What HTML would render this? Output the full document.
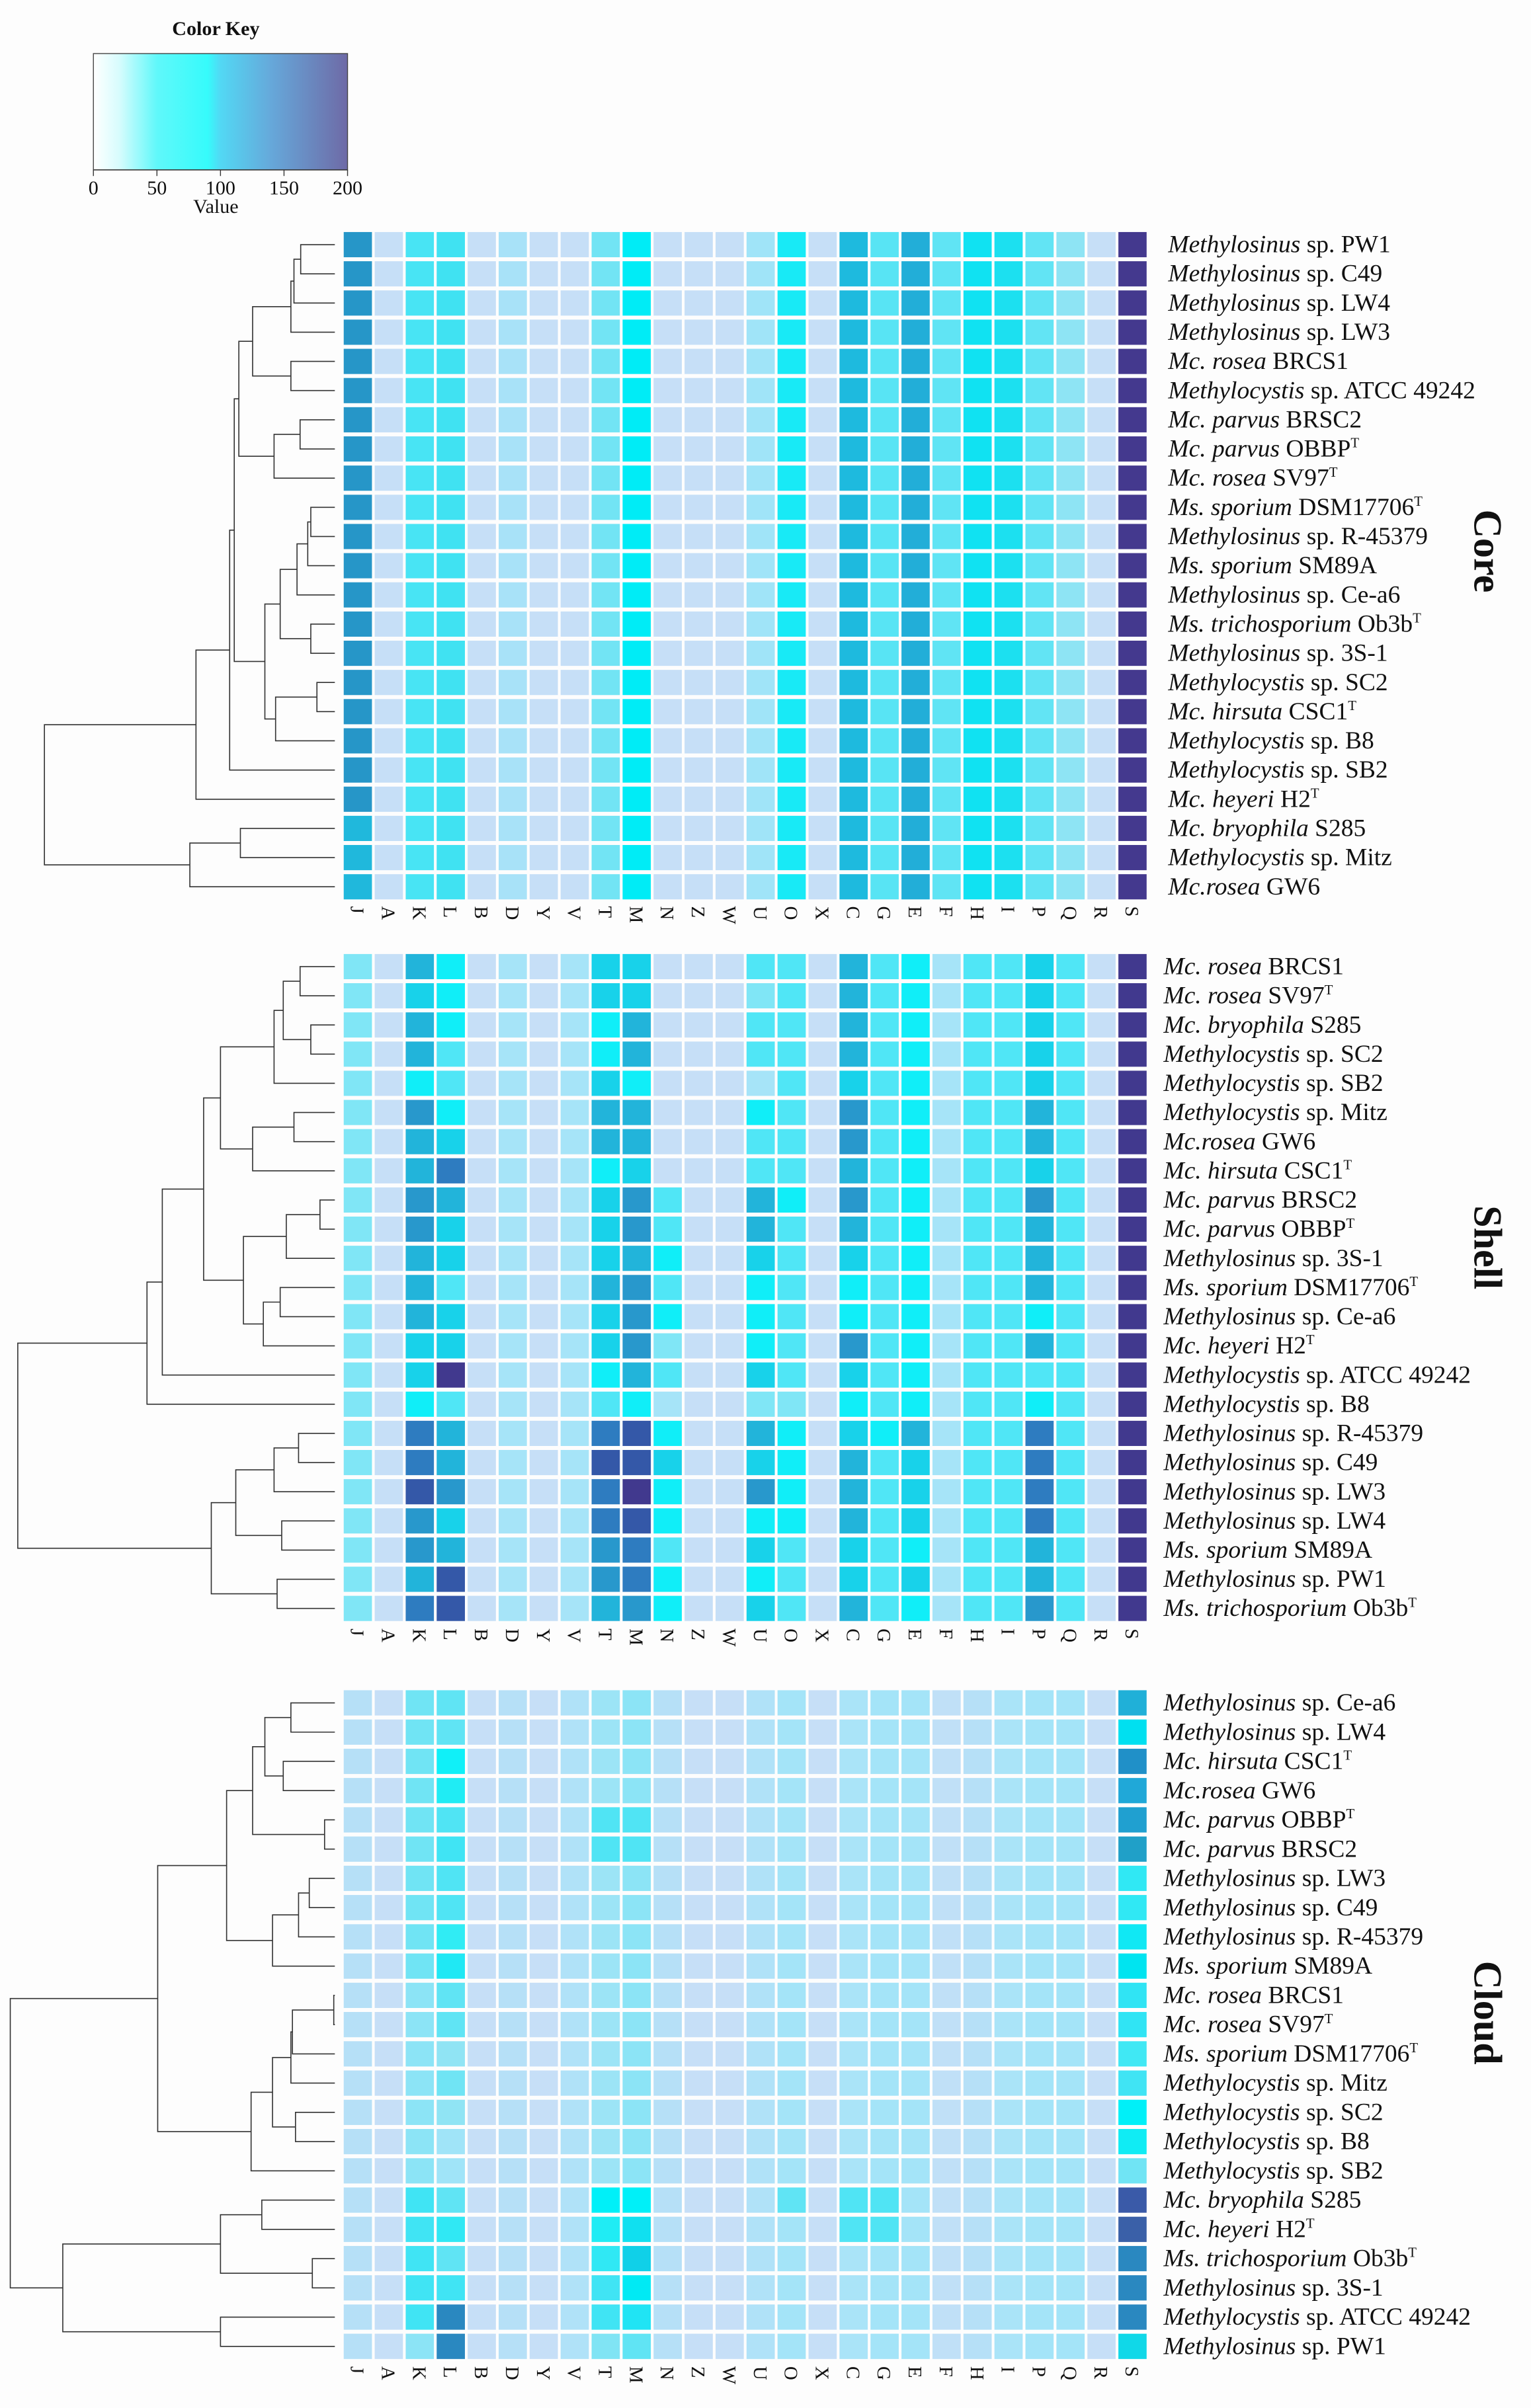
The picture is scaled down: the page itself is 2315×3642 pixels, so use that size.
<!DOCTYPE html>
<html><head><meta charset="utf-8"><style>
html,body{margin:0;padding:0;background:#fdfdfd;}
svg{display:block;}
text{font-family:"Liberation Serif",serif;fill:#111;}
.lab text{font-size:16.2px;}
.i{font-style:italic;}
.col text{font-size:12.5px;}
</style></head><body>
<svg id="s" xmlns="http://www.w3.org/2000/svg" width="2315" height="3642" viewBox="0 0 1000 1573.25">
<defs><linearGradient id="gk" x1="0" x2="1" y1="0" y2="0">
<stop offset="0" stop-color="#ffffff"/><stop offset="0.1" stop-color="#d8fcfd"/><stop offset="0.25" stop-color="#60f8fa"/><stop offset="0.45" stop-color="#36fbfb"/><stop offset="0.5" stop-color="#52d8f4"/><stop offset="0.7" stop-color="#66a8da"/><stop offset="1" stop-color="#6e6aa6"/></linearGradient></defs>
<rect x="0" y="0" width="1000" height="1573.25" fill="#fdfdfd"/>
<text x="141" y="23" font-size="13" font-weight="bold" text-anchor="middle">Color Key</text>
<rect x="61" y="35" width="166" height="76" fill="url(#gk)" stroke="#444" stroke-width="0.6"/>
<g stroke="#333" stroke-width="0.6"><line x1="61" y1="111" x2="227" y2="111"/><line x1="61" y1="111" x2="61" y2="115"/><line x1="102.5" y1="111" x2="102.5" y2="115"/><line x1="144" y1="111" x2="144" y2="115"/><line x1="185.5" y1="111" x2="185.5" y2="115"/><line x1="227" y1="111" x2="227" y2="115"/></g>
<g font-size="13" text-anchor="middle"><text x="61" y="127">0</text><text x="102.5" y="127">50</text><text x="144" y="127">100</text><text x="185.5" y="127">150</text><text x="227" y="127">200</text><text x="141" y="139">Value</text></g>
<g id="cells"></g><g id="dend" stroke="#333" stroke-width="0.7" fill="none"></g>

<g class="lab" id="L0" transform="translate(763,0)">
<text><tspan class="i">Methylosinus</tspan> sp. PW1</text>
<text><tspan class="i">Methylosinus</tspan> sp. C49</text>
<text><tspan class="i">Methylosinus</tspan> sp. LW4</text>
<text><tspan class="i">Methylosinus</tspan> sp. LW3</text>
<text><tspan class="i">Mc. rosea</tspan> BRCS1</text>
<text><tspan class="i">Methylocystis</tspan> sp. ATCC 49242</text>
<text><tspan class="i">Mc. parvus</tspan> BRSC2</text>
<text><tspan class="i">Mc. parvus</tspan> OBBP<tspan font-size="9" dy="-6">T</tspan></text>
<text><tspan class="i">Mc. rosea</tspan> SV97<tspan font-size="9" dy="-6">T</tspan></text>
<text><tspan class="i">Ms. sporium</tspan> DSM17706<tspan font-size="9" dy="-6">T</tspan></text>
<text><tspan class="i">Methylosinus</tspan> sp. R-45379</text>
<text><tspan class="i">Ms. sporium</tspan> SM89A</text>
<text><tspan class="i">Methylosinus</tspan> sp. Ce-a6</text>
<text><tspan class="i">Ms. trichosporium</tspan> Ob3b<tspan font-size="9" dy="-6">T</tspan></text>
<text><tspan class="i">Methylosinus</tspan> sp. 3S-1</text>
<text><tspan class="i">Methylocystis</tspan> sp. SC2</text>
<text><tspan class="i">Mc. hirsuta</tspan> CSC1<tspan font-size="9" dy="-6">T</tspan></text>
<text><tspan class="i">Methylocystis</tspan> sp. B8</text>
<text><tspan class="i">Methylocystis</tspan> sp. SB2</text>
<text><tspan class="i">Mc. heyeri</tspan> H2<tspan font-size="9" dy="-6">T</tspan></text>
<text><tspan class="i">Mc. bryophila</tspan> S285</text>
<text><tspan class="i">Methylocystis</tspan> sp. Mitz</text>
<text><tspan class="i">Mc.rosea</tspan> GW6</text>
</g>
<g class="lab" id="L1" transform="translate(760,0)">
<text><tspan class="i">Mc. rosea</tspan> BRCS1</text>
<text><tspan class="i">Mc. rosea</tspan> SV97<tspan font-size="9" dy="-6">T</tspan></text>
<text><tspan class="i">Mc. bryophila</tspan> S285</text>
<text><tspan class="i">Methylocystis</tspan> sp. SC2</text>
<text><tspan class="i">Methylocystis</tspan> sp. SB2</text>
<text><tspan class="i">Methylocystis</tspan> sp. Mitz</text>
<text><tspan class="i">Mc.rosea</tspan> GW6</text>
<text><tspan class="i">Mc. hirsuta</tspan> CSC1<tspan font-size="9" dy="-6">T</tspan></text>
<text><tspan class="i">Mc. parvus</tspan> BRSC2</text>
<text><tspan class="i">Mc. parvus</tspan> OBBP<tspan font-size="9" dy="-6">T</tspan></text>
<text><tspan class="i">Methylosinus</tspan> sp. 3S-1</text>
<text><tspan class="i">Ms. sporium</tspan> DSM17706<tspan font-size="9" dy="-6">T</tspan></text>
<text><tspan class="i">Methylosinus</tspan> sp. Ce-a6</text>
<text><tspan class="i">Mc. heyeri</tspan> H2<tspan font-size="9" dy="-6">T</tspan></text>
<text><tspan class="i">Methylocystis</tspan> sp. ATCC 49242</text>
<text><tspan class="i">Methylocystis</tspan> sp. B8</text>
<text><tspan class="i">Methylosinus</tspan> sp. R-45379</text>
<text><tspan class="i">Methylosinus</tspan> sp. C49</text>
<text><tspan class="i">Methylosinus</tspan> sp. LW3</text>
<text><tspan class="i">Methylosinus</tspan> sp. LW4</text>
<text><tspan class="i">Ms. sporium</tspan> SM89A</text>
<text><tspan class="i">Methylosinus</tspan> sp. PW1</text>
<text><tspan class="i">Ms. trichosporium</tspan> Ob3b<tspan font-size="9" dy="-6">T</tspan></text>
</g>
<g class="lab" id="L2" transform="translate(760,0)">
<text><tspan class="i">Methylosinus</tspan> sp. Ce-a6</text>
<text><tspan class="i">Methylosinus</tspan> sp. LW4</text>
<text><tspan class="i">Mc. hirsuta</tspan> CSC1<tspan font-size="9" dy="-6">T</tspan></text>
<text><tspan class="i">Mc.rosea</tspan> GW6</text>
<text><tspan class="i">Mc. parvus</tspan> OBBP<tspan font-size="9" dy="-6">T</tspan></text>
<text><tspan class="i">Mc. parvus</tspan> BRSC2</text>
<text><tspan class="i">Methylosinus</tspan> sp. LW3</text>
<text><tspan class="i">Methylosinus</tspan> sp. C49</text>
<text><tspan class="i">Methylosinus</tspan> sp. R-45379</text>
<text><tspan class="i">Ms. sporium</tspan> SM89A</text>
<text><tspan class="i">Mc. rosea</tspan> BRCS1</text>
<text><tspan class="i">Mc. rosea</tspan> SV97<tspan font-size="9" dy="-6">T</tspan></text>
<text><tspan class="i">Ms. sporium</tspan> DSM17706<tspan font-size="9" dy="-6">T</tspan></text>
<text><tspan class="i">Methylocystis</tspan> sp. Mitz</text>
<text><tspan class="i">Methylocystis</tspan> sp. SC2</text>
<text><tspan class="i">Methylocystis</tspan> sp. B8</text>
<text><tspan class="i">Methylocystis</tspan> sp. SB2</text>
<text><tspan class="i">Mc. bryophila</tspan> S285</text>
<text><tspan class="i">Mc. heyeri</tspan> H2<tspan font-size="9" dy="-6">T</tspan></text>
<text><tspan class="i">Ms. trichosporium</tspan> Ob3b<tspan font-size="9" dy="-6">T</tspan></text>
<text><tspan class="i">Methylosinus</tspan> sp. 3S-1</text>
<text><tspan class="i">Methylocystis</tspan> sp. ATCC 49242</text>
<text><tspan class="i">Methylosinus</tspan> sp. PW1</text>
</g>
<g class="col" id="C0"><text>J</text><text>A</text><text>K</text><text>L</text><text>B</text><text>D</text><text>Y</text><text>V</text><text>T</text><text>M</text><text>N</text><text>Z</text><text>W</text><text>U</text><text>O</text><text>X</text><text>C</text><text>G</text><text>E</text><text>F</text><text>H</text><text>I</text><text>P</text><text>Q</text><text>R</text><text>S</text></g>
<g class="col" id="C1"><text>J</text><text>A</text><text>K</text><text>L</text><text>B</text><text>D</text><text>Y</text><text>V</text><text>T</text><text>M</text><text>N</text><text>Z</text><text>W</text><text>U</text><text>O</text><text>X</text><text>C</text><text>G</text><text>E</text><text>F</text><text>H</text><text>I</text><text>P</text><text>Q</text><text>R</text><text>S</text></g>
<g class="col" id="C2"><text>J</text><text>A</text><text>K</text><text>L</text><text>B</text><text>D</text><text>Y</text><text>V</text><text>T</text><text>M</text><text>N</text><text>Z</text><text>W</text><text>U</text><text>O</text><text>X</text><text>C</text><text>G</text><text>E</text><text>F</text><text>H</text><text>I</text><text>P</text><text>Q</text><text>R</text><text>S</text></g>
<text transform="translate(963,360) rotate(90)" font-size="26" font-weight="bold" text-anchor="middle">Core</text>
<text transform="translate(963,815) rotate(90)" font-size="26" font-weight="bold" text-anchor="middle">Shell</text>
<text transform="translate(963,1315) rotate(90)" font-size="26" font-weight="bold" text-anchor="middle">Cloud</text>
</svg>
<script>
(function(){
var NS="http://www.w3.org/2000/svg";
var X0=223.6, PW=20.24;
var tops=[150.3,622,1103], PH=[19.07,19.06,19.11];
var P="#c6dff7";
var core=["#2696c8",P,"#48e4f4","#40e2f2",P,"#a8e2f8",P,P,"#72e4f4","#00ecf6",P,P,P,"#a0e4f8","#18eaf6",P,"#1ebade","#58e4f4","#22aed8","#60e4f4","#10e2f2","#1ce0f0","#62e4f4","#8ee4f4",P,"#44398e"];
var M={p:P,q:"#a6e4f8",r:"#80e6f6",c:"#50e6f6",b:"#10eef8",d:"#18d2ea",e:"#22b4da",f:"#2898cc",g:"#2e7cc0",h:"#3458a8",k:"#41398e"};
var sh=["ebddpccecbd","dbddprcecbd","ebbepccecbd","ecbepccecbd","bcdbpqcdcbd","fbeepbcfcbe","edeepccfcbe","egbdpccecbd","fedfcebfcbf","fddfcececbe","eddebdcdcbe","ecefcbcbcbe","eddfbbcbcbb","dddfrbcfcbe","dkbecdcdcbc","bccbqrrbcbb","geghbebdbeg","gehhddbecdg","hfgkbfbecdg","fdghbbbecdg","fefgcdcdcbe","ehfgbbcdcde","ghefbdcecbf"];
function shellRow(s){var K=s[0],L=s[1],T=s[2],Mm=s[3],N=s[4],U=s[5],O=s[6],C=s[7],G=s[8],E=s[9],Pp=s[10];
 var codes=["r","p",K,L,"p","q","p","q",T,Mm,N,"p","p",U,O,"p",C,G,E,"q","c","c",Pp,"c","p","k"];
 return codes.map(function(c){return M[c]||P;});}
var cb=["#b6e0f7",P,"#8ce4f6",null,P,"#b6e0f7",P,"#b0e2f8","#9ce4f6","#8ce4f6","#b6e0f7",P,P,"#b0e2f8","#a4e4f8",P,"#aae4f8","#a4e4f8","#a4e4f8","#c0e0f7","#b6e0f7","#aae4f8","#a4e4f8","#a4e4f8",P,null];
var cL=["#60e4f4","#60e4f4","#10f0f8","#20ecf4","#50e4f4","#40e4f4","#50e4f4","#50e4f4","#30ecf4","#20e8f4","#60e4f4","#60e4f4","#90e4f4","#70e4f4","#90e4f4","#a0e4f8","#a0e4f8","#60e4f4","#30e8f4","#60e4f4","#40e4f4","#2a88c0","#2a88c0"];
var cS=["#20b0d8","#00e0f0","#2090c8","#20a8d8","#20a0d0","#20a0c8","#30e8f4","#30e8f4","#10e8f4","#00e4f0","#30e4f4","#30e4f4","#40e8f4","#40e4f4","#00f0f8","#10ecf4","#70e4f4","#3a5aa8","#3a60a8","#2a88c0","#2a88c0","#2a88c0","#10d8e8"];
var cT=["#00f0f8","#20ecf4","#30e8f4","#40e4f4","#40e4f4","#80e4f4"], cM=["#00f0f8","#10e0f0","#10d0e8","#00eaf4","#20e4f4","#60e4f4"];
function cloudRow(i){var r=cb.slice();r[3]=cL[i];r[25]=cS[i];
 if(i==4||i==5){r[8]="#50e4f4";r[9]="#50e4f4";}
 if(i>=17){r[8]=cT[i-17];r[9]=cM[i-17];}
 if(i>=17&&i<=21)r[2]="#40e4f4"; else if(i<10) r[2]="#70e4f4";
 if(i==17||i==18){r[16]="#50e4f4";r[17]="#50e4f4";}
 if(i==17)r[14]="#60e4f4";
 return r;}
var g=document.getElementById("cells"),h="";
for(var s=0;s<3;s++)for(var i=0;i<23;i++){
 var row = s==0?core.slice():(s==1?shellRow(sh[i]):cloudRow(i));
 if(s==0&&i>=20)row[0]="#20b8dc";
 var y=tops[s]+i*PH[s];
 for(var j=0;j<26;j++){h+='<rect x="'+(X0+j*PW+0.9).toFixed(2)+'" y="'+(y+1.3).toFixed(2)+'" width="'+(PW-1.8).toFixed(2)+'" height="'+(PH[s]-2.6).toFixed(2)+'" fill="'+row[j]+'"/>';}
}
g.innerHTML=h;
["L0","L1","L2"].forEach(function(id,s){var t=document.getElementById(id).children;
 for(var i=0;i<t.length;i++){t[i].setAttribute("x",0);t[i].setAttribute("y",(tops[s]+(i+0.5)*PH[s]+5).toFixed(2));}});
var cy=[592,1064,1546];
["C0","C1","C2"].forEach(function(id,s){var t=document.getElementById(id).children;
 for(var j=0;j<t.length;j++){var x=X0+(j+0.5)*PW-4.5;t[j].setAttribute("transform","translate("+x.toFixed(2)+","+cy[s]+") rotate(90)");}});
var LX=218.7, d="";
function build(node,s){ if(typeof node=="number"){return {x:LX,y:tops[s]+(node+0.5)*PH[s]};}
 var a=build(node[1],s),b=build(node[2],s),x=node[0];
 d+="M"+a.x+","+a.y+"H"+x+"V"+b.y+"H"+b.x;
 return {x:x,y:(a.y+b.y)/2};}
function N(h,a,b){return [h,a,b];}
var A=N(196.4,0,1),B=N(192,A,2),C=N(190,B,3),D=N(190,4,5),E=N(165,C,D),F=N(196,6,7),G=N(179,F,8),H=N(156,E,G),
I=N(203,9,10),J=N(201,I,11),K=N(194,J,12),L=N(203,13,14),Mn=N(183,K,L),Nn=N(207,15,16),O=N(180,Nn,17),Pn=N(173,Mn,O),Q=N(153,H,Pn),R=N(150,Q,18),S=N(128,R,19),T=N(157,20,21),U=N(124,T,22);
build(N(29,S,U),0);
var a=N(196,0,1),b=N(203,2,3),c=N(185,a,b),dd=N(179,c,4),e=N(192,5,6),f=N(165,e,7),gg=N(144,dd,f),hh=N(209,8,9),ii=N(187,hh,10),jj=N(183,11,12),kk=N(172,jj,13),ll=N(159,ii,kk),mm=N(133,gg,ll),nn=N(106,mm,14),oo=N(96,nn,15),pp=N(195,16,17),qq=N(179,pp,18),rr=N(184,19,20),ss=N(154,qq,rr),tt=N(181,21,22),uu=N(138,ss,tt);
build(N(11.6,oo,uu),1);
var c1=N(190,0,1),c2=N(185,2,3),c3=N(173,c1,c2),c4=N(212,4,5),c5=N(165,c3,c4),c6=N(202,6,7),c7=N(195,c6,8),c8=N(178,c7,9),c9=N(148,c5,c8),
c10=N(218,10,11),c11=N(191,c10,12),c12=N(190,c11,13),c13=N(193,14,15),c14=N(178,c12,c13),c15=N(164,c14,16),c16=N(103,c9,c15),
c17=N(171,17,18),c18=N(204,19,20),c19=N(144,c17,c18),c20=N(144,21,22),c21=N(41,c19,c20);
build(N(6.7,c16,c21),2);
var p=document.createElementNS(NS,"path");p.setAttribute("d",d);document.getElementById("dend").appendChild(p);
})();
</script>
</body></html>
